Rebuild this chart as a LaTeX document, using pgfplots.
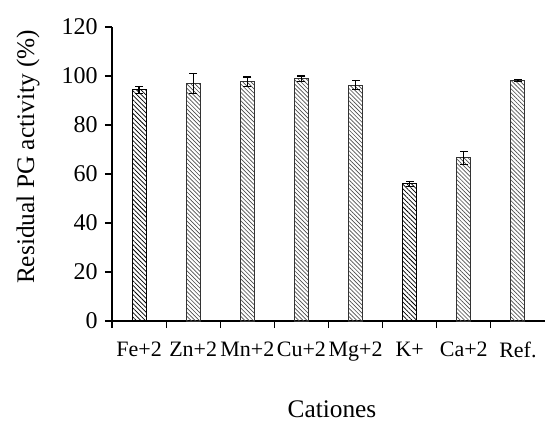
\documentclass[border=0pt]{standalone}
\usepackage{fontspec}
\setmainfont{Liberation Serif}
\usepackage{pgfplots}
\pgfplotsset{compat=1.18}
\usetikzlibrary{patterns.meta}
\newdimen\px \px=0.75pt
\begin{document}
\begin{tikzpicture}
\begin{axis}[
  at={(0,0)}, anchor=south west,
  scale only axis,
  width=433\px, height=294\px,
  xmin=-0.5, xmax=7.5, ymin=0, ymax=120,
  axis x line*=bottom, axis y line*=left,
  axis line style={line width=0.9pt, black},
  ytick={0,20,...,120},
  xtick={0,...,7},
  xticklabels={Fe+2,Zn+2,Mn+2,Cu+2,Mg+2,K+,Ca+2,Ref.},
  minor xtick={-0.5,0.5,...,6.5},
  major x tick style={draw=none},
  minor x tick style={line width=0.9pt, black},
  y tick style={line width=0.9pt, black},
  tick align=outside,
  major tick length=7\px,
  minor tick length=7\px,
  /pgf/number format/assume math mode=true,
  xticklabel style={yshift=-7pt, font=\fontsize{16.5pt}{20pt}\selectfont},
  yticklabel style={xshift=-2pt, font=\fontsize{18pt}{20pt}\selectfont},
  ylabel={Residual PG activity (\%)},
  ylabel style={at={(axis description cs:-0.194,0.558)}, anchor=center, font=\fontsize{19pt}{22pt}\selectfont},
  xlabel={Cationes},
  xlabel style={at={(axis description cs:0.508,-0.30)}, anchor=center, font=\fontsize{19pt}{22pt}\selectfont},
  clip=false,
]
\addplot[ybar, bar width=14\px, bar shift=0pt, draw=black, line width=0.7pt,
  pattern={Lines[angle=-45,distance=2.4pt,line width=0.55pt]}, pattern color=black]
  coordinates {(0,94.3) (5,56.0)};
\addplot[ybar, bar width=14\px, bar shift=0pt, draw=black!80, line width=0.7pt,
  pattern={Lines[angle=-45,distance=2.2pt,line width=0.5pt]}, pattern color=black!70]
  coordinates {(1,96.9) (2,97.6) (3,98.8) (4,96.3) (6,66.6) (7,98.2)};
\addplot[draw=none, mark=none, forget plot,
  error bars/.cd, y dir=both, y explicit, error mark=none,
  error bar style={line width=0.9pt, black, solid}]
  coordinates {(0,94.3) +- (0,1.3) (1,96.9) +- (0,4.0) (2,97.6) +- (0,2.0) (3,98.8) +- (0,1.2) (4,96.3) +- (0,1.9) (5,56.0) +- (0,1.1) (6,66.6) +- (0,2.7) (7,98.2) +- (0,0.3)};
% error bar caps (value +/- error)
\addplot[only marks, mark=-, mark size=4\px, mark options={line width=0.9pt, black, solid}, forget plot]
  coordinates {(0,95.6) (0,93.0) (1,100.9) (1,92.9) (2,99.6) (2,95.6) (3,100.0) (3,97.6)
               (4,98.2) (4,94.4) (5,57.1) (5,54.9) (6,69.3) (6,63.9) (7,98.5) (7,97.9)};
\end{axis}
\pgfresetboundingbox
\useasboundingbox (-112\px,-103\px) rectangle (433\px,321\px);
\end{tikzpicture}
\end{document}
